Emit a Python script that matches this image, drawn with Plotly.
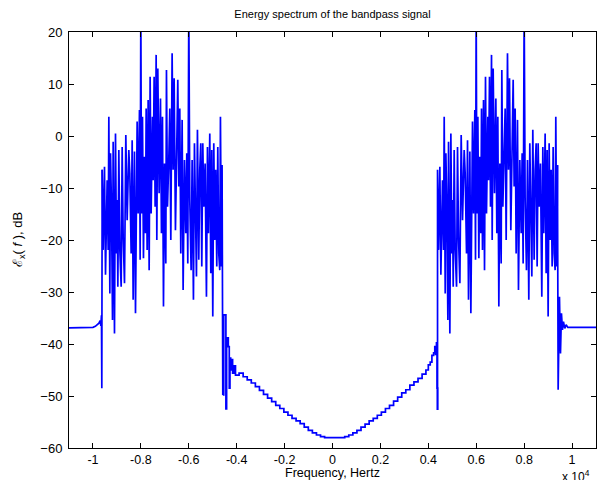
import plotly.graph_objects as go

# ---- data (frequency in Hz, level in dB) ----
carrier_hz = [-7000, 7000]

band_offset_hz = [-2615, -2573, -2518, -2476, -2407, -2365, -2337, -2295, -2267, -2226,
                  -2184, -2156, -2101, -2059, -2017, -1989, -1961, -1920, -1878, -1822,
                  -1781, -1739, -1683, -1628, -1572, -1503, -1461, -1405, -1363, -1322,
                  -1266, -1224, -1155, -1113, -1058, -1030, -1002, -974, -932, -891,
                  -849, -807, -779, -738, -696, -654, -613, -571, -515, -487,
                  -446, -404, -362, -334, -293, -237, -181, -140, -98, -56,
                  -14, 41, 69, 111, 166, 208, 250, 305, 347, 389,
                  444, 500, 542, 583, 625, 667, 723, 764, 820, 876,
                  917, 959, 1001, 1042, 1098, 1140, 1195, 1237, 1279, 1321,
                  1362, 1418, 1460, 1501, 1543, 1585, 1627, 1682, 1738, 1780,
                  1821, 1877, 1919, 1960, 2002, 2044, 2085, 2127, 2169, 2211,
                  2252, 2294, 2322, 2363, 2391]
band_db = [-6.5, -21.9, -5.9, -26.7, -8.5, -21.9, 3.7, -30.3, -3.3, -13.6,
           -35.4, -1.1, -38.0, 0.5, -22.6, -12.3, -29.0, -2.7, -21.9, -29.0,
           -2.1, -19.4, -28.3, 0.2, -16.2, -2.7, -7.2, -22.6, -0.8, -31.5,
           -3.0, -34.1, 2.8, -14.9, 5.0, -23.8, 25.0, -14.9, 3.7, -23.5,
           -4.0, -18.7, 5.3, -21.9, 6.9, -25.8, 11.4, -14.9, 3.7, -8.5,
           11.4, -13.6, 15.6, -20.0, 13.0, -11.0, 7.2, -18.7, 3.7, -32.8,
           -5.3, -24.5, 12.7, -13.6, -4.6, 5.3, -20.0, 15.9, -6.5, 11.1,
           -18.1, 4.4, 10.8, -9.7, 5.3, -22.6, 3.1, -29.6, -4.6, -18.7,
           -3.3, -24.5, 25.0, -12.3, -25.8, -4.6, -31.5, -1.4, -16.2, -27.0,
           1.2, -23.8, -6.5, -1.4, -25.1, -1.4, -13.6, -5.3, -30.9, -2.1,
           -18.7, 0.5, -26.4, -2.7, -34.7, -1.4, -20.0, -6.5, -25.1, -2.1,
           -22.6, -25.8, 3.7, -25.1, -5.6]

outer_neg_hz = [-11000, -10400, -10000, -9900, -9800, -9750, -9700, -9670, -9645, -9630]
outer_neg_db = [-36.9, -36.9, -36.8, -36.6, -36.3, -36.0, -35.5, -36.5, -34.5, -48.5]

inner_neg_hz = [-4580, -4540, -4450, -4420, -4350, -4310, -4280, -4250, -4210, -4170,
                -4120, -4050, -3900, -3730, -3560, -3390, -3220, -3050, -2880, -2710,
                -2540, -2370, -2200, -2030, -1860, -1690, -1520, -1350, -1180, -1010,
                -840, -670, -500, -330, -160, 0]
inner_neg_db = [-49.8, -34.4, -52.5, -38.8, -40.5, -48.5, -42.7, -45.0, -43.0, -45.6,
                -44.2, -46.0, -45.6, -46.3, -46.9, -47.5, -48.2, -48.9, -49.7, -50.4,
                -51.1, -51.8, -52.4, -53.1, -53.7, -54.3, -54.8, -55.3, -56.0, -56.6,
                -57.1, -57.5, -57.8, -58.0, -58.0, -58.0]

inner_pos_hz = [0, 170, 340, 510, 680, 850, 1020, 1190, 1360, 1530, 1700,
                1870, 2040, 2210, 2380, 2550, 2720, 2890, 3060, 3230, 3400,
                3570, 3740, 3900, 4000, 4080, 4150, 4220, 4270, 4300, 4340,
                4365, 4385]
inner_pos_db = [-58.0, -58.0, -58.0, -57.8, -57.5, -57.1, -56.6, -56.0, -55.4, -54.8, -54.3,
                -53.7, -53.1, -52.4, -51.8, -51.0, -50.2, -49.4, -48.8, -47.9, -47.3,
                -46.6, -45.8, -45.0, -44.0, -43.5, -42.2, -41.7, -40.5, -42.0, -39.8,
                -48.5, -52.7]

outer_pos_hz = [9420, 9475, 9517, 9558, 9600, 9642, 9697, 9753, 9823, 11000]
outer_pos_db = [-48.8, -30.9, -41.8, -34.1, -37.3, -35.7, -37.0, -36.3, -36.8, -36.8]

x_tick_vals = [-10000, -8000, -6000, -4000, -2000, 0, 2000, 4000, 6000, 8000, 10000]
x_tick_text = ["-1", "-0.8", "-0.6", "-0.4", "-0.2", "0", "0.2", "0.4", "0.6", "0.8", "1"]
y_tick_vals = [20, 10, 0, -10, -20, -30, -40, -50, -60]

# ---- assemble the pieces (consecutive pieces share their joining point) ----
band_neg_hz = [carrier_hz[0] + o for o in band_offset_hz]
band_pos_hz = [carrier_hz[1] + o for o in band_offset_hz]

pieces = [
    (outer_neg_hz + band_neg_hz[:1], outer_neg_db + band_db[:1], "linear"),
    (band_neg_hz + inner_neg_hz[:1], band_db + inner_neg_db[:1], "linear"),
    (inner_neg_hz + inner_pos_hz, inner_neg_db + inner_pos_db, "hv"),
    (inner_pos_hz[-1:] + band_pos_hz, inner_pos_db[-1:] + band_db, "linear"),
    (band_pos_hz[-1:] + outer_pos_hz, band_db[-1:] + outer_pos_db, "linear"),
]

FONT = "Liberation Sans, Arial, sans-serif"

fig = go.Figure()
for xs, ys, shape in pieces:
    fig.add_trace(go.Scatter(x=xs, y=ys, mode="lines",
                             line=dict(color="#0000ff", width=1.7, shape=shape),
                             hoverinfo="skip", showlegend=False))

axis_common = dict(showline=True, linecolor="black", linewidth=1, mirror="ticks",
                   ticks="inside", ticklen=5, tickcolor="black", tickwidth=1,
                   showgrid=False, zeroline=False)

fig.update_layout(
    width=597, height=480,
    margin=dict(l=69, r=1, t=32, b=32, autoexpand=False),
    paper_bgcolor="white", plot_bgcolor="white",
    title=dict(text="Energy spectrum of the bandpass signal",
               font=dict(family=FONT, size=11, color="black"),
               x=0.5, xref="paper", y=1, yref="container", yanchor="top", pad=dict(t=10)),
    xaxis=dict(range=[-11000, 11000], tickmode="array", tickvals=x_tick_vals,
               ticktext=x_tick_text,
               tickfont=dict(family=FONT, size=12.5, color="black"), **axis_common),
    yaxis=dict(range=[-60, 20], tickmode="array", tickvals=y_tick_vals,
               ticklabelstandoff=3,
               tickfont=dict(family=FONT, size=13, color="black"), **axis_common),
    annotations=[
        dict(text="ℰ<sub>x</sub>( <i>f</i> ), dB", xref="paper", yref="paper",
             x=0, y=0.5, xshift=-51, textangle=-90, showarrow=False,
             xanchor="center", yanchor="middle",
             font=dict(family=FONT, size=13, color="black")),
        dict(text="Frequency, Hertz", xref="paper", yref="paper", x=0.5, y=0,
             yshift=-16, yanchor="top", showarrow=False,
             font=dict(family=FONT, size=12.5, color="black")),
        dict(text="x 10<sup>4</sup>", xref="paper", yref="paper", x=1, y=0,
             yshift=-18, xshift=-4, xanchor="right", yanchor="top", showarrow=False,
             font=dict(family=FONT, size=12, color="black")),
    ],
)

fig.write_html("out.html", config={"displayModeBar": False},
               post_script="document.body.style.margin='0px';")
